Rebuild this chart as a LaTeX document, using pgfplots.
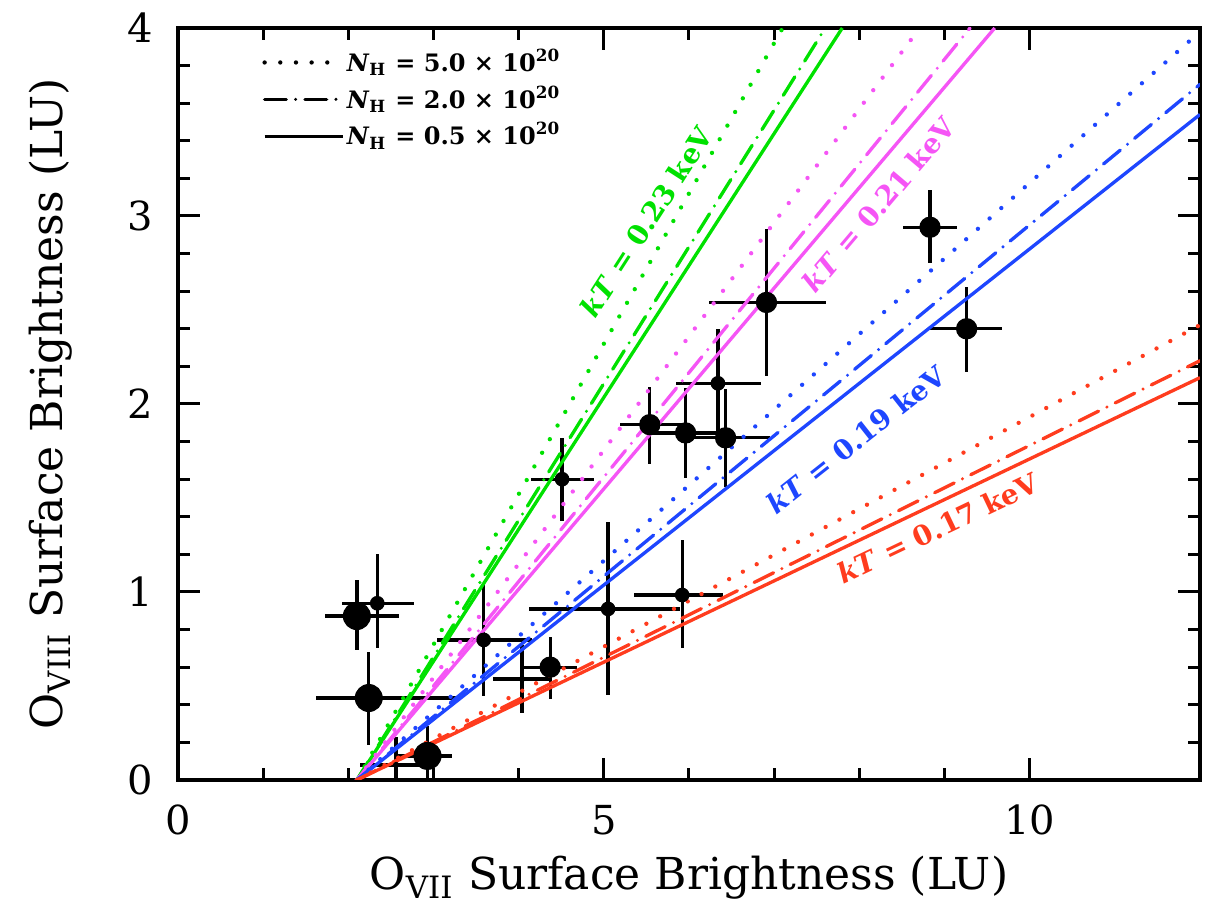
\documentclass[border=0pt]{standalone}
\usepackage{fontspec}
\setmainfont{DejaVu Serif}
\usepackage{pgfplots}
\pgfplotsset{compat=1.18}
\usepackage{pgfplotstable}

\definecolor{cgreen}{RGB}{0,225,0}
\definecolor{cmag}{RGB}{245,85,245}
\definecolor{cblue}{RGB}{30,70,255}
\definecolor{cred}{RGB}{255,60,30}

% x y xm xp ym yp
\pgfplotstableread{
x y xm xp ym yp
2.10 0.872 0.37 0.49 0.18 0.19
2.24 0.436 0.62 1.03 0.25 0.244
2.93 0.128 0.35 0.29 0.16 0.16
}\bigpts
\pgfplotstableread{
x y xm xp ym yp
8.83 2.94 0.32 0.32 0.19 0.20
9.26 2.40 0.45 0.41 0.23 0.22
6.91 2.54 0.67 0.70 0.39 0.39
5.96 1.846 0.42 0.42 0.24 0.24
6.43 1.82 0.51 0.52 0.26 0.26
5.54 1.89 0.35 0.40 0.21 0.20
4.37 0.60 0.32 0.32 0.17 0.16
}\medpts
\pgfplotstableread{
x y xm xp ym yp
6.34 2.11 0.49 0.50 0.30 0.29
4.51 1.60 0.36 0.37 0.22 0.22
5.92 0.984 0.56 0.48 0.28 0.29
5.05 0.91 0.93 0.84 0.46 0.46
3.59 0.745 0.55 0.57 0.30 0.30
2.34 0.94 0.42 0.43 0.24 0.26
}\smallpts
\pgfplotstableread{
x y xm xp ym yp
4.04 0.537 0.34 0.33 0.18 0.18
2.56 0.08 0.42 0.40 0.15 0.15
}\tinypts

\tikzset{
  dotl/.style={line width=1.3pt, line cap=round, dash pattern=on 0pt off 4.7pt},
  dashdotl/.style={line width=1pt, line cap=round, dash pattern=on 6.5pt off 2.8pt on 0pt off 2.8pt},
  solidl/.style={line width=1pt, solid},
}

\begin{document}
\begin{tikzpicture}
\begin{axis}[
  scale only axis,
  width=306.6pt, height=225.6pt,
  xmin=0, xmax=12, ymin=0, ymax=4,
  xtick={0,5,10}, minor x tick num=4,
  ytick={0,1,2,3,4}, minor y tick num=4,
  tick align=inside,
  major tick length=6.5pt, minor tick length=3.5pt,
  every tick/.style={black, line width=0.9pt},
  axis line style={line width=1pt},
  /pgf/number format/assume math mode=true,
  tick label style={font=\fontsize{12}{14}\selectfont},
  xticklabel style={yshift=-4pt},
  yticklabel style={xshift=-4pt},
  xlabel={O\textsubscript{VII} Surface Brightness (LU)},
  ylabel={O\textsubscript{VIII} Surface Brightness (LU)},
  label style={font=\fontsize{13.2}{15}\selectfont},
  xlabel style={anchor=base, at={(axis description cs:0.5,-0.146)}},
  ylabel style={anchor=base, at={(axis description cs:-0.1135,0.5)}},
  legend image code/.code={\draw[#1] (0pt,0pt) -- (23.4pt,0pt);},
  legend cell align=left,
  legend style={at={(axis description cs:0.082,0.976)}, anchor=north west,
    draw=none, fill=none, inner sep=0pt, row sep=1.6pt,
    font=\bfseries\fontsize{7.2}{8}\selectfont,
    nodes={inner sep=0.6pt},
    /tikz/every even column/.style={column sep=0pt}},
  error bars/error bar style={line width=1pt, black},
]
\addlegendimage{black, dotl}
\addlegendentry{\textit{N}\textsubscript{H} = 5.0 × 10\textsuperscript{20}}
\addlegendimage{black, dashdotl}
\addlegendentry{\textit{N}\textsubscript{H} = 2.0 × 10\textsuperscript{20}}
\addlegendimage{black, solidl}
\addlegendentry{\textit{N}\textsubscript{H} = 0.5 × 10\textsuperscript{20}}

% data points
\addplot[only marks, mark=*, mark size=4pt, black, forget plot,
  error bars/.cd, x dir=both, x explicit, y dir=both, y explicit, error mark=none]
  table[x=x, y=y, x error plus=xp, x error minus=xm, y error plus=yp, y error minus=ym] {\bigpts};
\addplot[only marks, mark=*, mark size=3pt, black, forget plot,
  error bars/.cd, x dir=both, x explicit, y dir=both, y explicit, error mark=none]
  table[x=x, y=y, x error plus=xp, x error minus=xm, y error plus=yp, y error minus=ym] {\medpts};
\addplot[only marks, mark=*, mark size=2pt, black, forget plot,
  error bars/.cd, x dir=both, x explicit, y dir=both, y explicit, error mark=none]
  table[x=x, y=y, x error plus=xp, x error minus=xm, y error plus=yp, y error minus=ym] {\smallpts};
\addplot[only marks, mark=*, mark size=0.7pt, black, forget plot,
  error bars/.cd, x dir=both, x explicit, y dir=both, y explicit, error mark=none]
  table[x=x, y=y, x error plus=xp, x error minus=xm, y error plus=yp, y error minus=ym] {\tinypts};

% model lines
\addplot[cgreen, dotl, forget plot] coordinates {(2.1,0) (7.10,4)};
\addplot[cgreen, dashdotl, forget plot] coordinates {(2.1,0) (7.60,4)};
\addplot[cgreen, solidl, forget plot] coordinates {(2.1,0) (7.80,4)};
\addplot[cmag, dotl, forget plot] coordinates {(2.1,0) (8.71,4)};
\addplot[cmag, dashdotl, forget plot] coordinates {(2.1,0) (9.30,4)};
\addplot[cmag, solidl, forget plot] coordinates {(2.1,0) (9.59,4)};
\addplot[cblue, dotl, forget plot] coordinates {(2.1,0) (12,3.98)};
\addplot[cblue, dashdotl, forget plot] coordinates {(2.1,0) (12,3.70)};
\addplot[cblue, solidl, forget plot] coordinates {(2.1,0) (12,3.54)};
\addplot[cred, dotl, forget plot] coordinates {(2.1,0) (12,2.42)};
\addplot[cred, dashdotl, forget plot] coordinates {(2.1,0) (12,2.23)};
\addplot[cred, solidl, forget plot] coordinates {(2.1,0) (12,2.14)};

\node[cgreen, rotate=57.2, font=\bfseries\fontsize{8.3}{9}\selectfont] at (axis cs:5.50,2.97) {\textit{kT} = 0.23 keV};
\node[cmag, rotate=49.7, font=\bfseries\fontsize{8.3}{9}\selectfont] at (axis cs:8.23,3.06) {\textit{kT} = 0.21 keV};
\node[cblue, rotate=38.3, font=\bfseries\fontsize{8.3}{9}\selectfont] at (axis cs:7.96,1.81) {\textit{kT} = 0.19 keV};
\node[cred, rotate=25.5, font=\bfseries\fontsize{8.3}{9}\selectfont] at (axis cs:8.92,1.34) {\textit{kT} = 0.17 keV};
\end{axis}
\pgfresetboundingbox
\path ([shift={(-53.4pt,-38.1pt)}]current axis.south west) rectangle ([shift={(5.1pt,8.4pt)}]current axis.north east);
\end{tikzpicture}
\end{document}
